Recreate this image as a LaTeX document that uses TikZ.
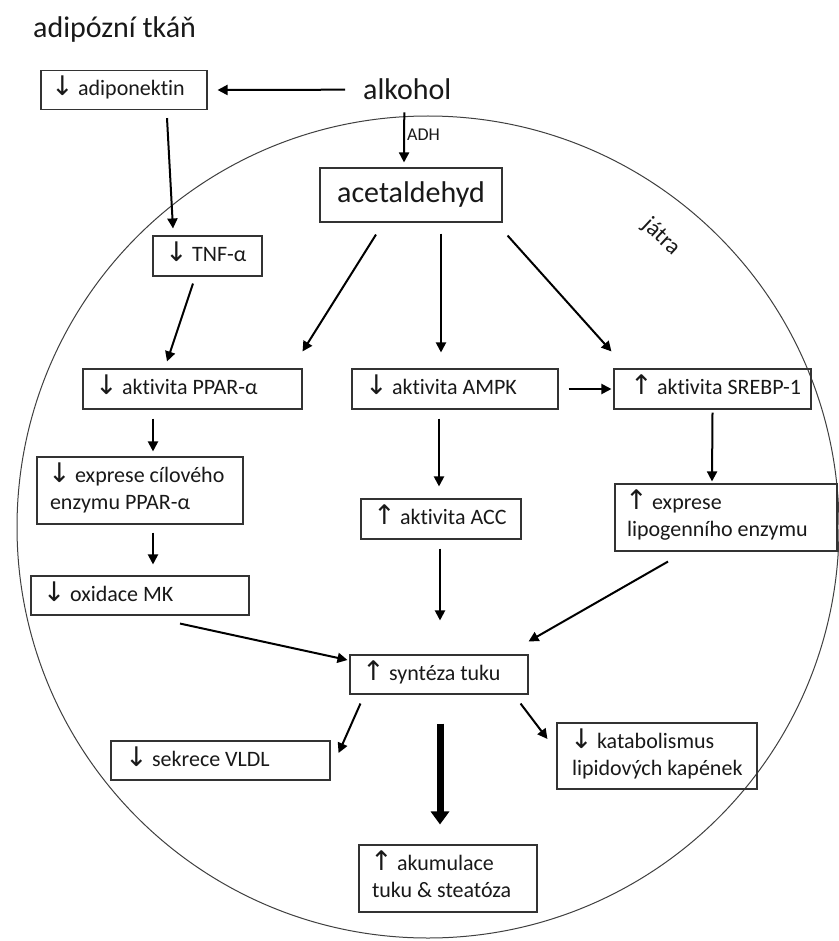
\documentclass[tikz,border=0pt]{standalone}
\usepackage{fontspec}
\setmainfont{Carlito}[Ligatures={TeX,NoCommon}]
\newfontfamily\arrowfont{DejaVu Sans}
\usetikzlibrary{arrows.meta,calc}
\newcommand{\arrdn}{{\kern-2pt\arrowfont\fontsize{27}{27}\selectfont ↓\kern-0.5pt}}
\newcommand{\arrup}{{\kern-2pt\arrowfont\fontsize{27}{27}\selectfont ↑\kern-0.5pt}}
\newcommand{\tb}[2]{\makebox[#1][l]{\begin{tabular}{@{}l@{}}#2\end{tabular}}}
\tikzset{
  box/.style={draw=black!80, line width=1.1pt, inner xsep=14pt, inner ysep=0pt,
    font=\fontsize{22}{27}\selectfont, text=black!90},
  arr/.style={line width=2pt, -{Triangle[length=10pt,width=10pt]}},
  bigarr/.style={line width=7pt, -{Triangle[length=13pt,width=18pt]}},
  liver/.style={draw=black!75, line width=1pt},
  big/.style={font=\fontsize{30}{34}\selectfont, text=black!90, inner sep=0pt},
}
\begin{document}
\begin{tikzpicture}[x=1pt,y=-1pt]
\useasboundingbox[fill=white] (0,0) rectangle (838,941);
% liver circle
\draw[liver] (428,527) circle[radius=411pt];
\node[font=\fontsize{23}{25}\selectfont, text=black!90, rotate=-43, inner sep=0pt] (jatra) at (661,237) {játra};

% titles
\node[big, anchor=base west] (title) at (33,38) {adipózní tkáň};
\node[big, anchor=base west] (alk) at (363,100) {alkohol};

% boxes
\node[box, minimum height=39pt, inner xsep=12pt] (adipo) at (124,90) {\tb{142pt}{\arrdn\ adiponektin}};
\node[box, minimum width=182pt, minimum height=54pt, inner xsep=0pt, font=\fontsize{30}{34}\selectfont] (acet) at (411,195) {acetaldehyd};
\node[box, minimum height=40pt] (tnf) at (207.5,256) {\tb{81pt}{\arrdn\ TNF-α}};
\node[box, minimum height=40pt] (ppar) at (192.5,389) {\tb{191pt}{\arrdn\ aktivita PPAR-α}};
\node[box, minimum height=40pt, inner xsep=15pt] (ampk) at (455,389) {\tb{176pt}{\arrdn\ aktivita AMPK}};
\node[box, minimum height=40pt, inner xsep=18pt] (srebp) at (712.5,389) {\tb{161pt}{\arrup\ aktivita SREBP-1}};
\node[box, minimum height=67pt, inner xsep=13pt] (expc) at (140,490.5) {\tb{180pt}{\arrdn\ exprese cílového\\enzymu PPAR-α}};
\node[box, minimum height=39pt] (oxid) at (140,595.5) {\tb{190pt}{\arrdn\ oxidace MK}};
\node[box, minimum height=40pt] (acc) at (441,519) {\tb{132pt}{\arrup\ aktivita ACC}};
\node[box, minimum height=67pt, inner xsep=12pt] (lipo) at (726,517.5) {\tb{198pt}{\arrup\ exprese\\lipogenního enzymu}};
\node[box, minimum height=39pt] (synt) at (439,674.5) {\tb{150pt}{\arrup\ syntéza tuku}};
\node[box, minimum height=39pt, inner xsep=16pt] (vldl) at (220.5,760.5) {\tb{187pt}{\arrdn\ sekrece VLDL}};
\node[box, minimum height=66pt, inner xsep=15pt] (katab) at (657,756) {\tb{170pt}{\arrdn\ katabolismus\\lipidových kapének}};
\node[box, minimum height=67pt, inner xsep=13pt] (akum) at (448,878.5) {\tb{152pt}{\arrup\ akumulace\\tuku \& steatóza}};

% alcohol arrows
\draw[arr] ([xshift=-18pt]alk.west) -- ([xshift=10pt]adipo.east);
\draw[arr] ([xshift=-3pt,yshift=-12pt]alk.south) -- node[pos=0.45, anchor=west, inner sep=0pt, xshift=2pt, font=\fontsize{18}{20}\selectfont, text=black!90] (adh) {ADH} ([xshift=-7pt,yshift=5pt]acet.north);

% connectors
\draw[arr] ([xshift=43pt,yshift=-8pt]adipo.south) -- ([xshift=-34.5pt,yshift=7pt]tnf.north);
\draw[arr] ([xshift=-14.5pt,yshift=-7pt]tnf.south) -- ([xshift=-25.5pt,yshift=7pt]ppar.north);
\draw[arr] ([xshift=-35pt,yshift=-12pt]acet.south) -- ([yshift=17pt]ppar.north east);
\draw[arr] ([xshift=30pt,yshift=-11pt]acet.south) -- ([xshift=-14pt,yshift=16pt]ampk.north);
\draw[arr] ([xshift=5pt,yshift=-13pt]acet.south east) -- ([xshift=-2pt,yshift=17pt]srebp.north west);
\draw[arr] ([xshift=10pt]ampk.east) -- ([xshift=-2pt]srebp.west);
\draw[arr] ([xshift=-39.5pt,yshift=-9pt]ppar.south) -- ([xshift=13pt,yshift=5pt]expc.north);
\draw[arr] ([xshift=13pt,yshift=-8pt]expc.south) -- ([xshift=13pt,yshift=11pt]oxid.north);
\draw[arr] ([xshift=-16pt,yshift=-9pt]ampk.south) -- ([xshift=-2pt,yshift=12pt]acc.north);
\draw[arr] ([yshift=-3pt]srebp.south) -- ([xshift=-14pt,yshift=2pt]lipo.north);
\draw[arr] ([xshift=-1pt,yshift=-9pt]acc.south) -- ([xshift=1pt,yshift=34pt]synt.north);
\draw[arr] ([xshift=-58pt,yshift=-10pt]lipo.south) -- ([yshift=13pt]synt.north east);
\draw[arr] ([xshift=40pt,yshift=-8pt]oxid.south) -- ([xshift=-2pt,yshift=14.5pt]synt.west);
\draw[arr] ([xshift=11pt,yshift=-9pt]synt.south west) -- ([xshift=8pt,yshift=7.5pt]vldl.east);
\draw[arr] ([xshift=-8pt,yshift=-9pt]synt.south east) -- ([xshift=-9pt,yshift=17pt]katab.west);
\draw[bigarr] ([xshift=1pt,yshift=-29pt]synt.south) -- ([xshift=-8pt,yshift=20pt]akum.north);
\end{tikzpicture}
\end{document}
